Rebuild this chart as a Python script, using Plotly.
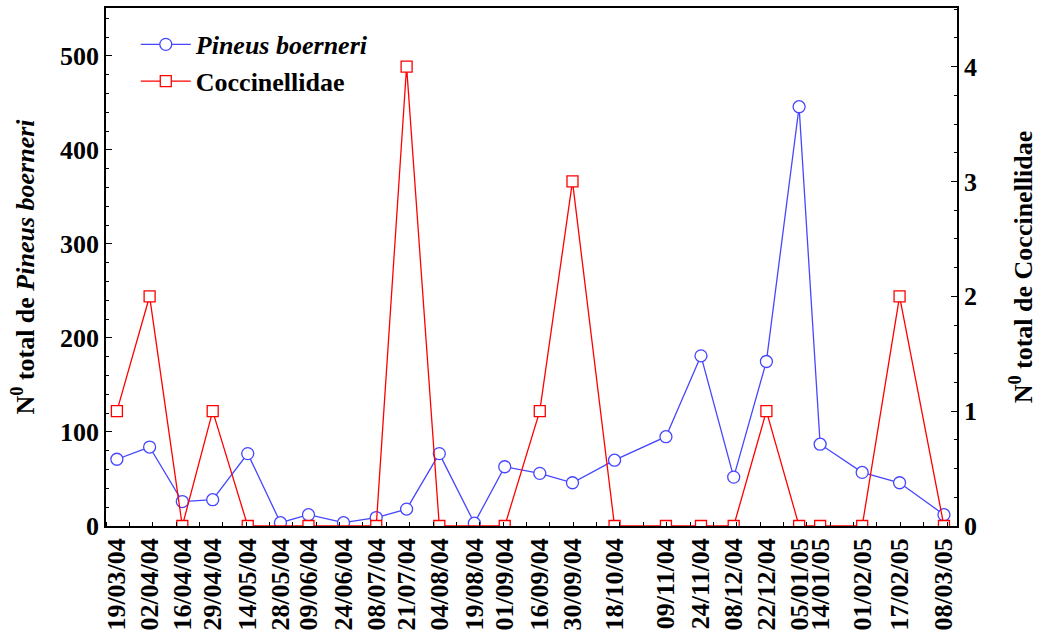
import plotly.graph_objects as go

# Sampling dates (ISO) and the labels printed under the axis
dates = ["2004-03-19", "2004-04-02", "2004-04-16", "2004-04-29", "2004-05-14",
         "2004-05-28", "2004-06-09", "2004-06-24", "2004-07-08", "2004-07-21",
         "2004-08-04", "2004-08-19", "2004-09-01", "2004-09-16", "2004-09-30",
         "2004-10-18", "2004-11-09", "2004-11-24", "2004-12-08", "2004-12-22",
         "2005-01-05", "2005-01-14", "2005-02-01", "2005-02-17", "2005-03-08"]
date_labels = ["19/03/04", "02/04/04", "16/04/04", "29/04/04", "14/05/04",
               "28/05/04", "09/06/04", "24/06/04", "08/07/04", "21/07/04",
               "04/08/04", "19/08/04", "01/09/04", "16/09/04", "30/09/04",
               "18/10/04", "09/11/04", "24/11/04", "08/12/04", "22/12/04",
               "05/01/05", "14/01/05", "01/02/05", "17/02/05", "08/03/05"]

# Total counts per sampling date
pineus = [71, 84, 26, 28, 77, 3.5, 12, 3.5, 9, 18,
          77, 3, 63, 56, 46, 70, 95, 181, 52, 175,
          446, 87, 57, 46, 12]
coccinellidae = [1, 2, 0, 1, 0, None, 0, None, 0, 4,
                 0, None, 0, 1, 3, 0, 0, 0, 0, 1,
                 0, 0, 0, 2, 0]

BLUE = "#4646ff"
RED = "#ff0000"
FONT = "Liberation Serif, Times New Roman, serif"
FS = 26

fig = go.Figure()
fig.add_trace(go.Scatter(
    x=dates, y=pineus, name="<i>Pineus boerneri</i>", mode="lines+markers",
    line=dict(color=BLUE, width=1.3),
    marker=dict(symbol="circle", size=12, color="white",
                line=dict(color=BLUE, width=1.3)),
))
fig.add_trace(go.Scatter(
    x=dates, y=coccinellidae, name="Coccinellidae", mode="lines+markers",
    yaxis="y2", connectgaps=True,
    line=dict(color=RED, width=1.3),
    marker=dict(symbol="square", size=11, color="white",
                line=dict(color=RED, width=1.3)),
))

fig.update_layout(
    width=1039, height=634,
    margin=dict(l=106, r=82, t=8, b=108),
    paper_bgcolor="white", plot_bgcolor="white",
    font=dict(family=FONT, size=FS, color="black", weight="bold"),
    showlegend=True,
    legend=dict(x=0.035, y=0.975, xanchor="left", yanchor="top",
                bgcolor="rgba(0,0,0,0)", font=dict(size=FS),
                itemwidth=50, tracegroupgap=0),
    xaxis=dict(
        type="date", automargin=False,
        range=["2004-03-14 08:00", "2005-03-13 14:00"],
        tickmode="array", tickvals=dates, ticktext=date_labels,
        tickangle=-90, ticks="", ticklen=0,
        tickfont=dict(size=FS, family=FONT, weight="bold"),
        showline=True, linecolor="black", linewidth=1.5, mirror=True,
        showgrid=False, zeroline=False,
        minor=dict(tickmode="linear", tick0="2004-03-14 08:00",
                   dtick=864000000, ticks="inside", ticklen=4,
                   tickwidth=1.2, tickcolor="black", showgrid=False),
    ),
    yaxis=dict(
        automargin=False,
        range=[0, 551], dtick=100, tick0=0,
        ticks="inside", ticklen=6, tickwidth=1.3, tickcolor="black",
        showline=True, linecolor="black", linewidth=1.5,
        showgrid=False, zeroline=False,
        minor=dict(dtick=20, ticks="inside", ticklen=3, tickwidth=1.2,
                   tickcolor="black", showgrid=False),
        title=dict(text="N<sup>0</sup> total de <i>Pineus boerneri</i>",
                   font=dict(size=FS), standoff=18),
    ),
    yaxis2=dict(
        automargin=False,
        overlaying="y", side="right",
        range=[0, 4.51], dtick=1, tick0=0,
        ticks="inside", ticklen=6, tickwidth=1.3, tickcolor="black",
        showline=True, linecolor="black", linewidth=1.5,
        showgrid=False, zeroline=False,
        minor=dict(dtick=0.25, ticks="inside", ticklen=3, tickwidth=1.2,
                   tickcolor="black", showgrid=False),
        title=dict(text="N<sup>0</sup> total de Coccinellidae",
                   font=dict(size=FS), standoff=38),
    ),
)

fig.write_html("out.html")
